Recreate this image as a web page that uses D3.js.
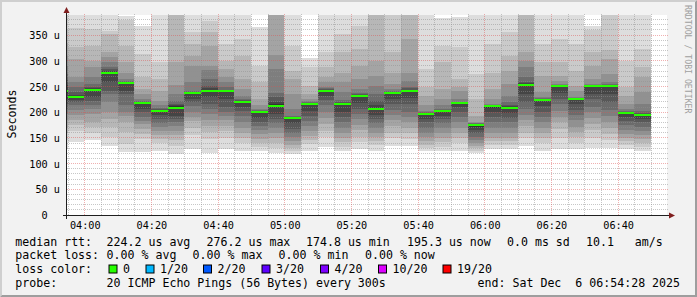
<!DOCTYPE html>
<html>
<head>
<meta charset="utf-8">
<script src="https://cdn.jsdelivr.net/npm/d3@7"></script>
<style>
html, body { margin: 0; padding: 0; background: #f2f2f2; }
svg { display: block; }
text { font-family: "DejaVu Sans Mono", monospace; white-space: pre; fill: #000; }
</style>
</head>
<body>
<svg id="chart" width="697" height="297"></svg>
<script>
// end time of each 5 minute step
var barEnds = ["03:55","04:00","04:05","04:10","04:15","04:20","04:25","04:30","04:35","04:40","04:45","04:50",
    "04:55","05:00","05:05","05:10","05:15","05:20","05:25","05:30","05:35","05:40","05:45","05:50",
    "05:55","06:00","06:05","06:10","06:15","06:20","06:25","06:30","06:35","06:40","06:45","06:50"];

// median rtt per step, in us
var medians = [241,230,243,276,257,217,203,209,237,242,242,220,200,212,189,216,242,216,
    232,206,237,242,196,203,217,175,211,209,253,224,251,226,251,250,199,195];

// 20 sorted ping times per step, in us
var pings = [
    [128,145,160,172,185,196,206,215,226,238,244,252,262,275,290,310,335,360,400,430],
    [142,163,175,185,195,205,214,220,224,228,231,234,239,248,258,268,303,326,363,420],
    [146,160,171,180,197,207,214,222,230,241,244,246,249,255,268,287,300,329,362,410],
    [135,152,171,187,200,220,236,242,258,274,278,280,283,288,297,307,316,352,358,395],
    [122,138,161,180,193,200,213,235,241,256,257.5,258,259,260,265,277,297,329,380,386],
    [122,147,158,167,176,183,190,200,206,215,218,219,220,222,226,236,245,268,313,368],
    [125,140,148,155,163,171,178,187,194,202,204,205,206,208,213,222,242,265,297,420],
    [119,135,145,155,164,173,180,187,193,207,211,213,216,222,235,252,297,396,420,450],
    [129,155,170,183,190,200,212,219,226,235,238,239,240,242,258,290,310,332,355,420],
    [120,148,161,173,184,196,206,216,230,240,244,246,251,265,281,290,329,355,378,395],
    [129,150,164,174,184,192,200,210,225,241,242.5,243,244,248,258,268,284,300,332,420],
    [125,140,150,160,170,181,192,203,210,218,221,222,223,226,232,245,264,310,342,420],
    [125,133,140,148,157,165,173,180,188,198,200.5,201,202,204,207,213,226,258,290,365],
    [120,130,140,150,160,170,178,187,196,210,215,220,229,238,284,312,400,420,450,480],
    [118,125,130,136,143,152,160,168,178,187,189.5,190,191,193,206,235,264,280,329,420],
    [125,138,145,154,164,174,183,193,203,213,217,217.5,218,220,222,226,235,250,288,306],
    [133,152,164,176,188,200,213,224,232,240,243,244,245,246,248,258,268,287,316,420],
    [125,133,141,150,160,170,180,190,200,214,217,218,220,223,239,258,277,316,352,420],
    [128,142,152,165,175,186,196,206,218,230,233,234,235,237,245,264,290,323,368,420],
    [125,136,143,152,160,170,178,186,195,204,208,214,222,235,250,270,300,400,420,440],
    [135,150,160,173,184,195,205,216,226,235,238,239,240,242,245,255,277,316,400,420],
    [135,148,160,170,180,190,200,215,228,240,243,244,246,248,261,277,342,400,430,460],
    [125,131,137,143,152,160,170,180,186,194,197,198,199,200,203,213,232,248,284,420],
    [125,133,141,150,160,170,178,187,193,201,203.5,204,205,207,213,226,245,297,329,384],
    [125,140,150,160,170,180,190,200,210,215,217.5,218,218.5,219,226,242,248,265,326,385],
    [120,125,130,135,140,146,152,160,166,172,176,176.5,177,178,179,181,193,226,274,420],
    [128,136,143,150,160,170,180,190,200,209,211.5,212,213,214,216,226,245,277,332,420],
    [128,136,143,150,160,170,180,188,198,207,210.5,212,214,219,232,255,280,310,355,420],
    [135,150,160,173,185,195,207,220,235,251,254,256,258,268,287,300,316,400,430,460],
    [125,140,150,160,170,180,190,200,212,222,224.5,225,226,227,229,239,271,297,332,420],
    [128,150,168,180,190,203,215,226,238,249,251.5,252,252.5,253,254,261,271,297,342,420],
    [128,140,152,162,172,184,195,205,215,224,226.5,227,227.5,228,229,242,251,280,332,420],
    [130,150,165,176,188,200,210,225,236,249,251.5,252,252.5,253,254,264,290,316,360,368],
    [130,145,158,170,180,193,205,220,235,249,251,252,253,254,258,274,303,320,410,440],
    [128,136,143,150,158,166,175,182,190,197,200,200.5,201,203,206,216,232,248,300,420],
    [125,133,140,148,155,164,172,180,186,194,196,197,199,203,216,239,268,287,323,395]
];

var yLabelTicks = [0,50,100,150,200,250,300,350];
var timeLabels = ["04:00","04:20","04:40","05:00","05:20","05:40","06:00","06:20","06:40"];

var lossSteps = ["0","1/20","2/20","3/20","4/20","10/20","19/20"];
var lossColors = ["#26ff00","#00b8ff","#0059ff","#5e00ff","#7e00ff","#dd00ff","#ff0000"];

var statsRtt = ["224.2 us avg","276.2 us max","174.8 us min","195.3 us now","0.0 ms sd","10.1   am/s"];
var statsLoss = ["0.00 % avg","0.00 % max","0.00 % min","0.00 % now"];
var probeText = "20 ICMP Echo Pings (56 Bytes) every 300s";
var endText = "end: Sat Dec  6 06:54:28 2025";

// smoke shades, outermost pair first
var smokeGreys = ["#dddddd","#cacaca","#b7b7b7","#a4a4a4","#919191","#7e7e7e","#6b6b6b","#585858","#454545","#323232"];

var day = "2025-12-06 ";
var parseTime = d3.timeParse("%Y-%m-%d %H:%M");
var parseFull = d3.timeParse("%Y-%m-%d %H:%M:%S");

var plot = {left: 67, right: 667, top: 15, bottom: 215};
var svg = d3.select("#chart");

var x = d3.scaleTime()
    .domain([parseFull(day + "03:54:28"), parseFull(day + "06:54:28")])
    .range([66.3, 666.3]);

var y = d3.scaleLinear()
    .domain([0, 388.9])
    .range([215, 15]);

// 3d border
svg.append("rect").attr("width", 697).attr("height", 297).attr("fill", "#f2f2f2");
svg.append("path").attr("fill", "#cfcfcf").attr("d", "M0,0H697L695,2H2V295L0,297Z");
svg.append("path").attr("fill", "#9e9e9e").attr("d", "M697,0V297H0L2,295H695V2Z");

svg.append("rect")
    .attr("x", plot.left).attr("y", plot.top)
    .attr("width", plot.right - plot.left).attr("height", plot.bottom - plot.top)
    .attr("fill", "#ffffff");

svg.append("clipPath").attr("id", "plotClip")
    .append("rect")
    .attr("x", plot.left).attr("y", plot.top)
    .attr("width", plot.right - plot.left).attr("height", plot.bottom - plot.top);

var bars = barEnds.map(function(t, i) {
    var end = parseTime(day + t);
    return {
        start: d3.timeMinute.offset(end, -5),
        end: end,
        pings: pings[i],
        median: medians[i]
    };
});

var smoke = svg.append("g").attr("clip-path", "url(#plotClip)");

bars.forEach(function(b) {
    var x0 = Math.floor(x(b.start)), x1 = Math.floor(x(b.end));
    var n = b.pings.length;
    smoke.selectAll(null)
        .data(smokeGreys)
        .join("rect")
        .attr("x", x0)
        .attr("width", x1 - x0)
        .attr("y", function(c, k) { return Math.round(y(b.pings[n - 1 - k])); })
        .attr("height", function(c, k) {
            return Math.round(y(b.pings[k])) - Math.round(y(b.pings[n - 1 - k]));
        })
        .attr("fill", function(c) { return c; });
});

// grid, drawn over the smoke like rrdtool does
var grid = svg.append("g").attr("fill", "none").attr("stroke-dasharray", "1,1");

var minorY = d3.range(10, 389, 10).filter(function(v) { return v % 50 !== 0; });
var minorT = d3.timeMinute.every(5).range(x.domain()[0], x.domain()[1])
    .filter(function(t) { return t.getMinutes() % 20 !== 0; });
var majorT = timeLabels.map(function(t) { return parseTime(day + t); });

function hLines(vals, color) {
    grid.selectAll(null).data(vals).join("line")
        .attr("x1", plot.left).attr("x2", plot.right + 1)
        .attr("y1", function(v) { return Math.floor(y(v)) + 0.5; })
        .attr("y2", function(v) { return Math.floor(y(v)) + 0.5; })
        .attr("stroke", color);
}
function vLines(vals, color) {
    grid.selectAll(null).data(vals).join("line")
        .attr("y1", plot.top - 1).attr("y2", plot.bottom)
        .attr("x1", function(t) { return Math.floor(x(t)) + 0.5; })
        .attr("x2", function(t) { return Math.floor(x(t)) + 0.5; })
        .attr("stroke", color);
}
hLines(minorY, "rgba(143,143,143,0.5)");
vLines(minorT, "rgba(143,143,143,0.5)");
hLines(yLabelTicks.slice(1), "rgba(222,79,79,0.45)");
vLines(majorT, "rgba(222,79,79,0.45)");

// median line, coloured by loss
var sw = (y.domain()[1] - y.domain()[0]) / (plot.bottom - plot.top);
svg.append("g").attr("clip-path", "url(#plotClip)")
    .selectAll("rect")
    .data(bars)
    .join("rect")
    .attr("x", function(b) { return Math.floor(x(b.start)); })
    .attr("width", function(b) { return Math.floor(x(b.end)) - Math.floor(x(b.start)); })
    .attr("y", function(b) { return Math.round(y(b.median + sw)); })
    .attr("height", function(b) { return Math.round(y(b.median - sw)) - Math.round(y(b.median + sw)); })
    .attr("fill", lossColors[0]);

// axes
svg.append("line").attr("x1", 63).attr("x2", 669).attr("y1", 215.5).attr("y2", 215.5)
    .attr("stroke", "#1f1f1f");
svg.append("line").attr("x1", 66.5).attr("x2", 66.5).attr("y1", 219).attr("y2", 12)
    .attr("stroke", "#1f1f1f");
svg.append("path").attr("fill", "#801f1f").attr("d", "M669,212.5L675,215.5L669,218.5Z");
svg.append("path").attr("fill", "#801f1f").attr("d", "M63.5,13L66.5,7L69.5,13Z");

var yAxis = svg.append("g")
    .attr("transform", "translate(60,0)")
    .call(d3.axisLeft(y)
        .tickValues(yLabelTicks)
        .tickSize(0)
        .tickPadding(0)
        .tickFormat(function(v) { return v ? v + " u" : "0  "; }));
yAxis.select(".domain").remove();
yAxis.selectAll("text")
    .attr("font-family", "DejaVu Sans Mono")
    .attr("font-size", "10.2px")
    .attr("fill", "#000")
    .attr("dy", "0.35em");

var xAxis = svg.append("g")
    .attr("transform", "translate(0,215)")
    .call(d3.axisBottom(x)
        .tickValues(majorT)
        .tickSize(0)
        .tickPadding(6.6)
        .tickFormat(d3.timeFormat("%H:%M")));
xAxis.select(".domain").remove();
xAxis.selectAll("text")
    .attr("font-family", "DejaVu Sans Mono")
    .attr("font-size", "10.2px")
    .attr("fill", "#000");

svg.append("text")
    .attr("transform", "translate(15.5,114) rotate(-90)")
    .attr("text-anchor", "middle")
    .attr("font-size", "11.6px")
    .text("Seconds");

svg.append("text")
    .attr("transform", "translate(685,5) rotate(90)")
    .attr("font-size", "8.2px")
    .style("fill", "#a0a0a0")
    .text("RRDTOOL / TOBI OETIKER");

// legend
var legend = svg.append("g").attr("font-size", "11.6px");
function legendRow(baseline, items, xs) {
    legend.selectAll(null).data(items).join("text")
        .attr("x", function(d, i) { return xs[i]; })
        .attr("y", baseline)
        .text(function(d) { return d; });
}
legendRow(245.5, ["median rtt:"].concat(statsRtt), [15.3, 106.6, 206.6, 306, 407, 507, 586]);
legendRow(259.3, ["packet loss:"].concat(statsLoss), [15.3, 106.6, 192.6, 278.6, 365]);
legendRow(273.1, ["loss color:"], [15.3]);
legendRow(286.9, ["probe:", probeText, endText], [15.3, 106.6, 477.6]);

var boxX = [109, 146, 203.5, 262, 320.5, 378.5, 443];
legend.selectAll(null).data(lossSteps).join("rect")
    .attr("x", function(d, i) { return boxX[i]; })
    .attr("y", 265)
    .attr("width", 8).attr("height", 8)
    .attr("fill", function(d, i) { return lossColors[i]; })
    .attr("stroke", "#000");
legend.selectAll(null).data(lossSteps).join("text")
    .attr("x", function(d, i) { return boxX[i] + 14; })
    .attr("y", 273.1)
    .text(function(d) { return d; });
</script>
</body>
</html>
